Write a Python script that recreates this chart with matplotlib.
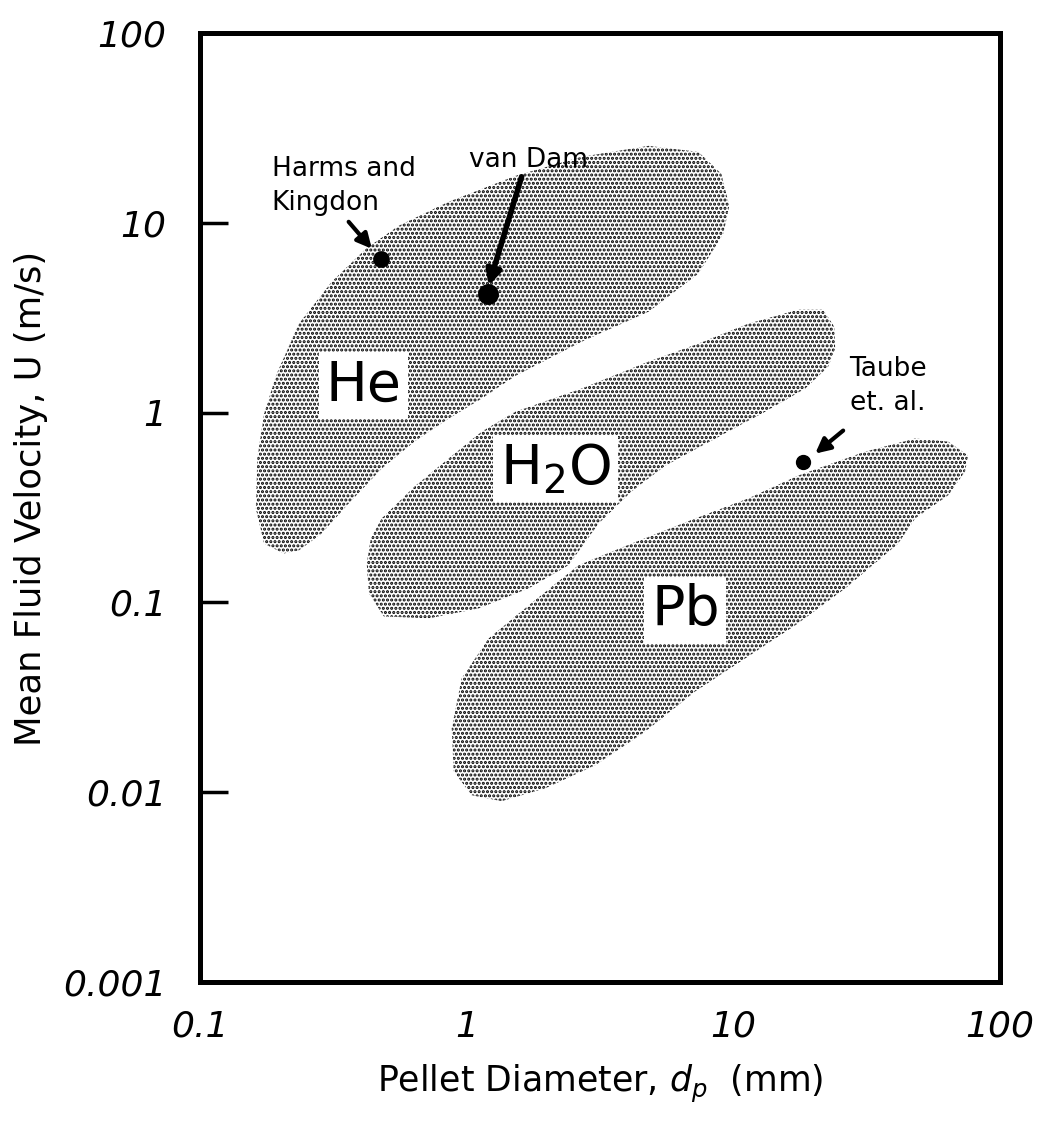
import numpy as np
import matplotlib
matplotlib.use('Agg')
import matplotlib.pyplot as plt

# === Data ===
# pellet diameter (mm) / mean fluid velocity (m/s) outlines of each region
he_d = [0.206, 0.174, 0.162, 0.164, 0.174, 0.194, 0.235, 0.312, 0.419, 0.556,
        0.856, 1.526, 2.697, 4.805, 7.393, 9.018, 9.66, 9.174, 7.39, 4.81,
        2.70, 1.53, 1.138, 0.856, 0.644, 0.480, 0.361, 0.286, 0.235]
he_u = [0.181, 0.204, 0.312, 0.573, 0.988, 1.604, 2.940, 4.891, 7.297, 9.643,
        12.90, 17.68, 22.26, 25.43, 23.64, 18.11, 12.29, 8.753, 5.391, 3.401,
        2.364, 1.566, 1.185, 0.930, 0.712, 0.507, 0.332, 0.231, 0.188]

h2o_d = [0.489, 0.430, 0.422, 0.437, 0.480, 0.644, 0.856, 1.138, 1.526, 2.697,
         4.805, 7.393, 11.38, 17.52, 21.73, 23.89, 24.10, 22.69, 18.61, 13.18,
         8.563, 5.564, 4.150, 3.122, 2.410, 1.707, 1.109, 0.721]
h2o_u = [0.0844, 0.1115, 0.160, 0.217, 0.277, 0.413, 0.573, 0.794, 1.012, 1.338,
         1.855, 2.308, 2.940, 3.484, 3.484, 2.836, 2.172, 1.746, 1.338, 1.012,
         0.730, 0.526, 0.384, 0.260, 0.157, 0.1185, 0.0930, 0.0824]

pb_d = [1.044, 0.894, 0.879, 0.958, 1.209, 1.707, 2.628, 4.150, 7.206, 11.38,
        17.52, 31.22, 48.05, 63.87, 75.89, 73.94, 63.87, 48.05, 41.50, 26.28,
        17.07, 11.09, 7.206, 4.682, 3.042, 1.976, 1.352]
pb_u = [0.00964, 0.0129, 0.0217, 0.0398, 0.0646, 0.0964, 0.157, 0.204, 0.277, 0.353,
        0.466, 0.623, 0.730, 0.704, 0.594, 0.489, 0.366, 0.277, 0.204, 0.1185,
        0.0757, 0.0507, 0.0340, 0.0209, 0.0139, 0.0105, 0.00897]

# region labels: text, diameter, velocity
region_names = ['He', r'H$_2$O', 'Pb']
region_d = [0.411, 2.154, 6.610]
region_u = [1.387, 0.507, 0.0908]

# experiments: label, point, arrow tail/head, text position
exp_labels = ['Harms and\nKingdon', 'van Dam', 'Taube\net. al.']
exp_d = [0.476, 1.198, 18.29]
exp_u = [6.463, 4.229, 0.546]
exp_size = [11, 14, 10]
arrow_tail_d = [0.361, 1.607, 25.82]
arrow_tail_u = [10.12, 17.46, 0.804]
arrow_head_d = [0.441, 1.209, 20.28]
arrow_head_u = [7.297, 4.660, 0.608]
arrow_lw = [3, 4, 3]
text_d = [0.186, 1.017, 38.07]
text_u = [22.52, 21.46, 1.387]
text_ha = ['left', 'left', 'center']
text_va = ['top', 'center', 'center']

x_ticks = [0.1, 1, 10, 100]
x_ticklabels = ['0.1', '1', '10', '100']
y_ticks = [0.001, 0.01, 0.1, 1, 10, 100]
y_ticklabels = ['0.001', '0.01', '0.1', '1', '10', '100']

# === Figure ===
plt.rcParams['hatch.linewidth'] = 1.5
fig = plt.figure(figsize=(10.46, 11.37), dpi=100)
ax = fig.add_axes([0.1912, 0.1363, 0.7648, 0.8347])
ax.set_xscale('log')
ax.set_yscale('log')
ax.set_xlim(0.1, 100)
ax.set_ylim(0.001, 100)

for d, u in [(he_d, he_u), (h2o_d, h2o_u), (pb_d, pb_u)]:
    ax.fill(d, u, facecolor='white', edgecolor='black', linewidth=0,
            hatch='....', zorder=1)

for name, d, u in zip(region_names, region_d, region_u):
    ax.text(d, u, name, fontsize=40, ha='center', va='center', zorder=3,
            bbox=dict(boxstyle='square,pad=0.12', fc='white', ec='none'))

for i in range(len(exp_labels)):
    ax.plot(exp_d[i], exp_u[i], 'o', color='black', markersize=exp_size[i], zorder=4)
    ax.annotate('', xy=(arrow_head_d[i], arrow_head_u[i]),
                xytext=(arrow_tail_d[i], arrow_tail_u[i]),
                arrowprops=dict(arrowstyle='-|>', color='black', lw=arrow_lw[i],
                                mutation_scale=22, shrinkA=0, shrinkB=0),
                zorder=4)
    ax.text(text_d[i], text_u[i], exp_labels[i], fontsize=19, ha=text_ha[i],
            va=text_va[i], linespacing=1.4, zorder=4)

# axes styling
for sp in ax.spines.values():
    sp.set_linewidth(3.6)
ax.minorticks_off()
ax.set_xticks(x_ticks)
ax.set_xticklabels(x_ticklabels, fontsize=26, fontstyle='italic')
ax.set_yticks(y_ticks)
ax.set_yticklabels(y_ticklabels, fontsize=26, fontstyle='italic')
ax.tick_params(which='major', direction='in', length=20, width=2.5)
ax.tick_params(axis='x', length=0, pad=20)
ax.tick_params(axis='y', pad=24)

ax.set_xlabel(r'Pellet Diameter, $d_p$  (mm)', fontsize=25)
ax.xaxis.set_label_coords(0.5, -0.085)
ax.set_ylabel('Mean Fluid Velocity, U (m/s)', fontsize=25.5)
ax.yaxis.set_label_coords(-0.19, 0.51)

fig.savefig('out.png', dpi=100)
